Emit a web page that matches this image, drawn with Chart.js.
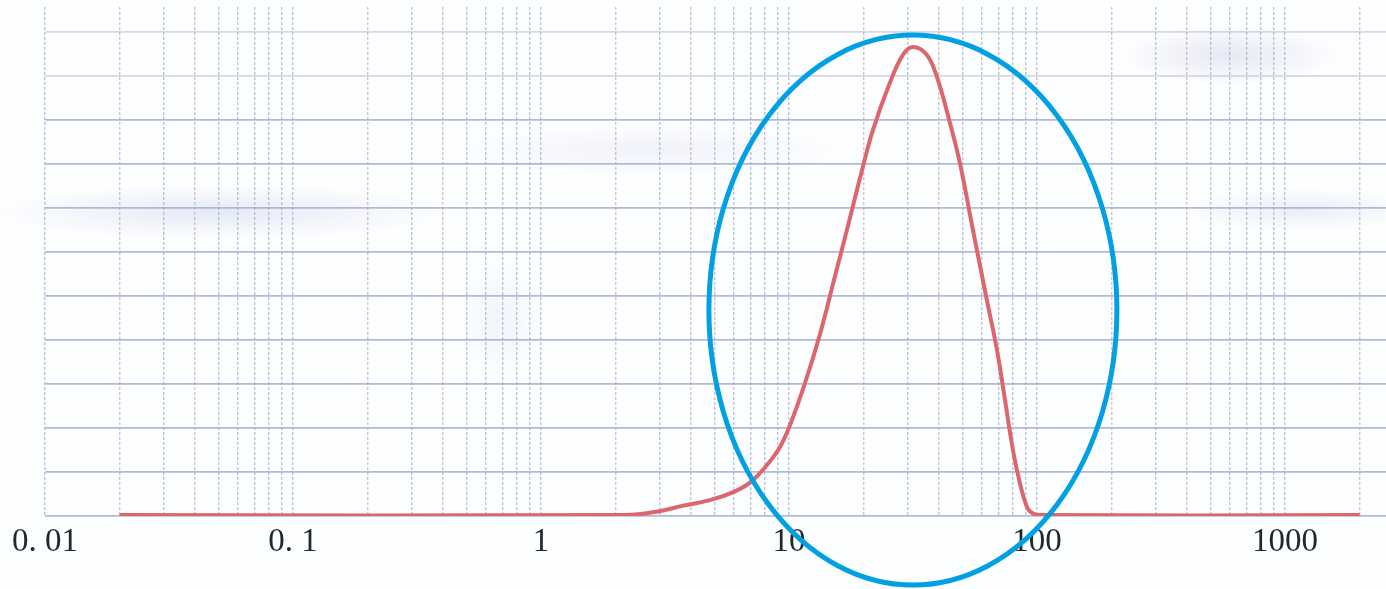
<!DOCTYPE html>
<html>
<head>
<meta charset="utf-8">
<script src="https://cdn.jsdelivr.net/npm/chart.js@4.4.1/dist/chart.umd.min.js"></script>
<style>
  html, body { margin: 0; padding: 0; background: #fff; }
  #wrap {
    position: relative; width: 1386px; height: 589px; overflow: hidden;
    background:
      radial-gradient(ellipse 230px 28px at 220px 212px, rgba(185,195,225,0.35), transparent),
      radial-gradient(ellipse 200px 26px at 650px 150px, rgba(195,200,230,0.22), transparent),
      radial-gradient(ellipse 110px 30px at 1230px 55px, rgba(190,190,220,0.35), transparent),
      radial-gradient(ellipse 120px 22px at 1300px 210px, rgba(190,200,225,0.3), transparent),
      radial-gradient(ellipse 40px 60px at 500px 320px, rgba(200,205,230,0.22), transparent),
      #fdfeff;
  }
</style>
</head>
<body>
<div id="wrap"><canvas id="psd" width="1386" height="589"></canvas></div>
<script>
// particle size (log axis) vs. frequency
const sizes = [0.02, 2.2, 3.0, 3.7, 4.8, 6.0, 7.0, 8.15, 9.2, 10.1, 11.6, 13.3, 15.3, 17.6,
               19.7, 21.8, 25.5, 28.8, 31.6, 36.0, 39.5, 44.6, 48.9, 55.2, 62.8, 69.0, 74.3,
               80.0, 85.3, 91.2, 95.5, 103, 2000];
const freq  = [0.02, 0.02, 0.11, 0.23, 0.36, 0.55, 0.77, 1.16, 1.57, 2.07, 3.02, 4.11, 5.43, 6.77,
               7.86, 8.77, 9.84, 10.48, 10.66, 10.48, 9.98, 8.93, 8.02, 6.5, 4.91, 3.77, 2.64,
               1.5, 0.75, 0.2, 0.07, 0.02, 0.02];

// axis ticks
const decades = [0.01, 0.1, 1, 10, 100, 1000];
const xLabels = ['0. 01', '0. 1', '1', '10', '100', '1000'];
const steps = [1, 2, 3, 4, 5, 6, 7, 8, 9];
const yGrid = [0, 1, 2, 3, 4, 5, 6, 7, 8, 9, 10, 11];

// vertical grid lines at every 1..9 x decade, plus 2000
const xGrid = [];
decades.forEach(d => steps.forEach(s => { if (s * d <= 2000) xGrid.push(s === 1 ? d : s * d); }));

// blue ring marking the peak
const ring = { x: 31.6, y: 4.68, rx: 204, ry: 275 };

const ringPlugin = {
    id: 'ring',
    afterDraw(chart) {
        const { ctx, scales: { x, y } } = chart;
        ctx.save();
        ctx.beginPath();
        ctx.ellipse(x.getPixelForValue(ring.x), y.getPixelForValue(ring.y), ring.rx, ring.ry, 0, 0, Math.PI * 2);
        ctx.strokeStyle = '#00a0e3';
        ctx.lineWidth = 5;
        ctx.stroke();
        ctx.restore();
    }
};

function gridColor(ctx) {
    const v = ctx.tick ? ctx.tick.value : 0;
    const sig = Math.round(v / Math.pow(10, Math.floor(Math.log10(v) + 1e-9)));
    if (sig === 2 || sig === 4) return 'rgba(200,165,185,0.7)';
    return 'rgba(145,168,198,0.65)';
}

function yGridColor(ctx) {
    const v = ctx.tick ? ctx.tick.value : 0;
    return v >= 10 ? 'rgba(190,190,200,0.6)' : 'rgba(158,170,205,0.8)';
}

const canvas = document.querySelector('#psd');
const chart = new Chart(canvas.getContext('2d'), {
    type: 'line',
    data: {
        datasets: [{
            data: sizes.map((s, i) => ({ x: s, y: freq[i] })),
            borderColor: '#dc666b',
            borderWidth: 4,
            pointRadius: 0,
            fill: false,
            tension: 0.4
        }]
    },
    options: {
        responsive: false,
        animation: false,
        layout: { padding: { top: 7, left: 0, right: 0, bottom: 0 } },
        plugins: {
            legend: { display: false },
            tooltip: { enabled: false }
        },
        scales: {
            x: {
                type: 'logarithmic',
                min: 0.01,
                max: 2555,
                afterBuildTicks: s => { s.ticks = xGrid.map(v => ({ value: v })); },
                afterFit: s => { s.height = 73; },
                ticks: {
                    autoSkip: false,
                    maxRotation: 0,
                    padding: 7,
                    color: '#1f2a2c',
                    font: { family: 'Liberation Serif', size: 33 },
                    callback: v => {
                        const i = decades.indexOf(v);
                        return i >= 0 ? xLabels[i] : '';
                    }
                },
                grid: { color: gridColor, lineWidth: 1.4, drawTicks: false },
                border: { display: false, dash: [3, 2] }
            },
            y: {
                type: 'linear',
                min: 0,
                max: 11.57,
                afterBuildTicks: s => { s.ticks = yGrid.map(v => ({ value: v })); },
                afterFit: s => { s.width = 45; },
                ticks: { display: false },
                grid: { color: yGridColor, lineWidth: 1.7, drawTicks: false },
                border: { display: false }
            }
        }
    },
    plugins: [ringPlugin]
});
</script>
</body>
</html>
